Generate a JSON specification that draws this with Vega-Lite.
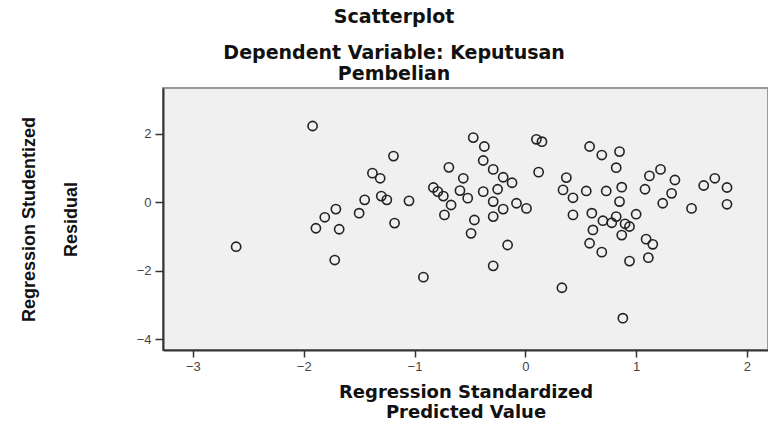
{
  "$schema": "https://vega.github.io/schema/vega-lite/v6.json",
  "width": 605,
  "height": 262,
  "autosize": "none",
  "padding": {"left": 163, "top": 88, "right": 0, "bottom": 71},
  "background": "white",
  "title": {
    "text": "Scatterplot",
    "subtitle": ["Dependent Variable: Keputusan", "Pembelian"],
    "anchor": "middle",
    "frame": "bounds",
    "font": "DejaVu Sans",
    "fontSize": 19,
    "fontWeight": "bold",
    "color": "#111",
    "subtitleFont": "DejaVu Sans",
    "subtitleFontSize": 19,
    "subtitleFontWeight": "bold",
    "subtitleColor": "#111",
    "subtitleLineHeight": 21,
    "subtitlePadding": 17,
    "offset": 4
  },
  "config": {
    "view": {"fill": "#f0f0f0", "stroke": "#999999", "strokeWidth": 2}
  },
  "data": {
    "values": [
      {"x": -1.92, "y": 2.23}, {"x": -2.61, "y": -1.30}, {"x": -1.71, "y": -0.20}, {"x": -1.81, "y": -0.44},
      {"x": -1.89, "y": -0.76}, {"x": -1.68, "y": -0.79}, {"x": -1.72, "y": -1.69}, {"x": -1.50, "y": -0.32},
      {"x": -0.47, "y": 1.89}, {"x": -0.37, "y": 1.63}, {"x": 0.10, "y": 1.84}, {"x": 0.15, "y": 1.77},
      {"x": -1.19, "y": 1.35}, {"x": -0.38, "y": 1.22}, {"x": -0.69, "y": 1.02}, {"x": -0.29, "y": 0.96},
      {"x": 0.12, "y": 0.88}, {"x": -1.38, "y": 0.85}, {"x": -1.31, "y": 0.70}, {"x": -0.56, "y": 0.70},
      {"x": -0.20, "y": 0.73}, {"x": -0.12, "y": 0.57}, {"x": -0.83, "y": 0.43}, {"x": -0.79, "y": 0.31},
      {"x": -0.74, "y": 0.18}, {"x": -0.59, "y": 0.34}, {"x": -0.38, "y": 0.31}, {"x": -0.25, "y": 0.38},
      {"x": -1.30, "y": 0.18}, {"x": -1.45, "y": 0.07}, {"x": -1.25, "y": 0.07}, {"x": -1.05, "y": 0.04},
      {"x": -0.52, "y": 0.12}, {"x": -0.29, "y": 0.02}, {"x": -0.08, "y": -0.03}, {"x": 0.01, "y": -0.18},
      {"x": -0.67, "y": -0.08}, {"x": -0.20, "y": -0.20}, {"x": -0.73, "y": -0.37}, {"x": -0.29, "y": -0.42},
      {"x": -0.46, "y": -0.52}, {"x": -1.18, "y": -0.61}, {"x": -0.49, "y": -0.91}, {"x": -0.16, "y": -1.25},
      {"x": -0.29, "y": -1.86}, {"x": -0.92, "y": -2.19},
      {"x": 0.58, "y": 1.63}, {"x": 0.69, "y": 1.38}, {"x": 0.85, "y": 1.48}, {"x": 0.82, "y": 1.01},
      {"x": 0.37, "y": 0.72}, {"x": 1.22, "y": 0.96}, {"x": 1.12, "y": 0.77}, {"x": 1.35, "y": 0.65},
      {"x": 1.71, "y": 0.70}, {"x": 1.61, "y": 0.49}, {"x": 1.82, "y": 0.43}, {"x": 0.34, "y": 0.36},
      {"x": 0.43, "y": 0.13}, {"x": 0.55, "y": 0.33}, {"x": 0.73, "y": 0.33}, {"x": 0.87, "y": 0.44},
      {"x": 1.08, "y": 0.38}, {"x": 1.32, "y": 0.26}, {"x": 0.85, "y": 0.02}, {"x": 1.24, "y": -0.03},
      {"x": 1.50, "y": -0.18}, {"x": 1.82, "y": -0.06}, {"x": 0.43, "y": -0.37}, {"x": 0.60, "y": -0.32},
      {"x": 1.00, "y": -0.35},
      {"x": 0.70, "y": -0.54}, {"x": 0.82, "y": -0.42}, {"x": 0.78, "y": -0.60}, {"x": 0.90, "y": -0.63},
      {"x": 0.94, "y": -0.71}, {"x": 0.61, "y": -0.81}, {"x": 0.87, "y": -0.96}, {"x": 1.09, "y": -1.08},
      {"x": 1.15, "y": -1.23}, {"x": 0.58, "y": -1.20}, {"x": 0.69, "y": -1.46}, {"x": 0.94, "y": -1.72},
      {"x": 1.11, "y": -1.62}, {"x": 0.33, "y": -2.50}, {"x": 0.88, "y": -3.39}
    ]
  },
  "mark": {"type": "point", "shape": "circle", "filled": false, "stroke": "#222222", "strokeWidth": 1.6, "size": 85, "opacity": 1},
  "encoding": {
    "x": {
      "field": "x", "type": "quantitative",
      "scale": {"domain": [-3.27, 2.19], "nice": false, "zero": false},
      "axis": {
        "values": [-3, -2, -1, 0, 1, 2],
        "grid": false,
        "domainColor": "#333333", "domainWidth": 2,
        "tickColor": "#333333", "tickSize": 7, "tickWidth": 1.5,
        "labelFont": "Liberation Sans", "labelFontSize": 13, "labelColor": "#444444", "labelPadding": 3,
        "title": ["Regression Standardized", "Predicted Value"],
        "titleFont": "DejaVu Sans", "titleFontSize": 18, "titleFontWeight": "bold",
        "titleLineHeight": 20, "titleColor": "#111111", "titlePadding": 10
      }
    },
    "y": {
      "field": "y", "type": "quantitative",
      "scale": {"domain": [-4.32, 3.34], "nice": false, "zero": false},
      "axis": {
        "values": [2, 0, -2, -4],
        "grid": false,
        "domainColor": "#333333", "domainWidth": 2,
        "tickColor": "#333333", "tickSize": 8, "tickWidth": 1.5,
        "labelFont": "Liberation Sans", "labelFontSize": 13, "labelColor": "#444444", "labelPadding": 4,
        "title": ["Regression Studentized", "Residual"],
        "titleFont": "Liberation Sans", "titleFontSize": 18, "titleFontWeight": "bold",
        "titleLineHeight": 42, "titleColor": "#111111", "titlePadding": 56
      }
    }
  }
}
